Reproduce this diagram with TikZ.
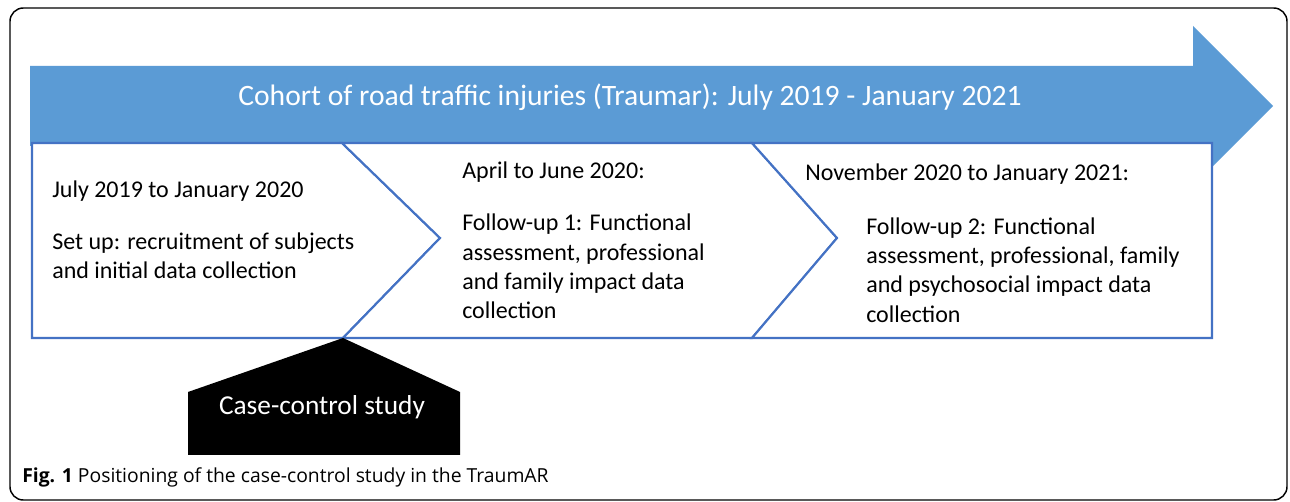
\documentclass[tikz,border=0pt]{standalone}
\usepackage{fontspec}
\setmainfont{Carlito}
\newfontfamily\capfont{Open Sans}
\definecolor{bandblue}{HTML}{5B9BD5}
\definecolor{lineblue}{HTML}{4472C4}
\tikzset{
  band/.style={fill=bandblue},
  phase/.style={draw=lineblue, line width=1.6pt, fill=white, line join=miter},
  txt/.style={anchor=west, align=left, inner sep=0pt, font=\fontsize{18}{22}\selectfont},
  head/.style={inner sep=0pt, text=white, font=\fontsize{22.2}{26}\selectfont}
}
\tikzstyle{study} = [fill=black]
\tikzstyle{studytxt} = [inner sep=0pt, text=white, font=\fontsize{20.5}{24}\selectfont]

\begin{document}
\begin{tikzpicture}[x=0.75pt, y=-0.75pt]
    \useasboundingbox (0,0) rectangle (1290,502);
    \draw [rounded corners=10pt, line width=1.1pt] (10,8) rectangle (1287,500);

    \fill [band] (30,66) -- (1193,66) -- (1193,26) -- (1273,106) -- (1193,186) -- (1193,146) -- (30,146) -- cycle;
    \node [head, anchor=base] (title) at (630,106) {Cohort of road traffic injuries (Traumar): July 2019 - January 2021};

    \draw [phase] (32,143) -- (342,143) -- (440,238) -- (343,338) -- (32,338) -- cycle;
    \draw [phase] (342,143) -- (752,143) -- (837,238) -- (752,338) -- (343,338) -- (440,238) -- cycle;
    \draw [phase] (752,143) -- (1212,143) -- (1212,338) -- (752,338) -- (837,238) -- cycle;

    \node [txt] (a1) at (52,191) {July 2019 to January 2020};
    \node [txt] (a2) at (52,255.5) {Set up: recruitment of subjects\\and initial data collection};
    \node [txt] (b1) at (462,172) {April to June 2020:};
    \node [txt] (b2) at (462,266.5) {Follow-up 1: Functional\\assessment, professional\\and family impact data\\collection};
    \node [txt] (c1) at (805,174) {November 2020 to January 2021:};
    \node [txt] (c2) at (866,270) {Follow-up 2: Functional\\assessment, professional, family\\and psychosocial impact data\\collection};

    \fill [study] (343,338) -- (460,392) -- (460,455) -- (188,455) -- (188,392) -- cycle;
    \node [studytxt] (cc) at (322,407) {Case-control study};

    \node [anchor=west, inner sep=0pt, font=\capfont\fontsize{14.5}{17}\selectfont] (cap) at (22,477) {\textbf{Fig. 1} Positioning of the case-control study in the TraumAR};
\end{tikzpicture}
\end{document}
